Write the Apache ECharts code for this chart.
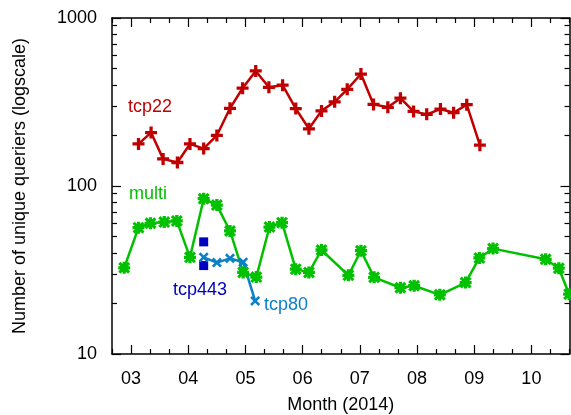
<!DOCTYPE html>
<style>
body {margin: 0;}
#div_echart {height: 415px; width: 571px;}
</style>
<script src='https://cdn.jsdelivr.net/npm/echarts@6/dist/echarts.min.js'></script>
<div id='div_echart'></div>
<script>
let tcp22Months = [3.13, 3.35, 3.56, 3.81, 4.03, 4.27, 4.50, 4.73, 4.95, 5.18, 5.41, 5.65, 5.88, 6.11, 6.33, 6.56, 6.78, 7.02, 7.24, 7.49, 7.71, 7.94, 8.17, 8.41, 8.64, 8.87, 9.10]
let tcp22Queriers = [178, 208, 145, 138, 178, 167, 200, 290, 382, 484, 387, 398, 289, 219, 280, 317, 376, 464, 306, 294, 333, 278, 267, 287, 273, 305, 175]
let multiMonths = [2.88, 3.13, 3.34, 3.58, 3.80, 4.03, 4.27, 4.50, 4.73, 4.96, 5.19, 5.42, 5.64, 5.88, 6.11, 6.33, 6.80, 7.02, 7.25, 7.71, 7.95, 8.40, 8.85, 9.09, 9.33, 10.25, 10.48, 10.66]
let multiQueriers = [32.6, 56.5, 60, 61, 62, 37.6, 84, 77, 54, 30.6, 28.7, 57, 60.5, 32, 30.6, 41.6, 29.4, 41.2, 28.6, 24.8, 25.5, 22.5, 26.6, 37.3, 42.4, 36.6, 32.4, 22.7]
let tcp80Months = [4.27, 4.50, 4.73, 4.96, 5.17]
let tcp80Queriers = [37.6, 35, 37.1, 35.2, 20.7]
let tcp443Months = [4.27, 4.27]
let tcp443Queriers = [46.5, 33.6]
let monthTicks = [3, 4, 5, 6, 7, 8, 9, 10]
let monthLabels = ['03', '04', '05', '06', '07', '08', '09', '10']
let queriersTicks = [10, 100, 1000]

let xMin = 8 / 3, xMax = 32 / 3
let font = 'Liberation Sans'
let red = '#c00000', green = '#00c000', lightBlue = '#0a80c8', darkBlue = '#0000c0'

let monthMinor = []
for (let i = 8; i <= 32; i++) if (i % 3) monthMinor.push(i / 3)
let logMinor = []
for (let d = 1; d <= 2; d++) for (let k = 2; k <= 9; k++) logMinor.push(d + Math.log10(k))

let plus = 'path://M4,0H7V4H11V7H7V11H4V7H0V4H4Z'
let cross = 'path://M0,2L2,0L5.5,3.5L9,0L11,2L7.5,5.5L11,9L9,11L5.5,7.5L2,11L0,9L3.5,5.5Z'
let star = 'path://M4,0H7V4H11V7H7V11H4V7H0V4H4Z M0,2L2,0L5.5,3.5L9,0L11,2L7.5,5.5L11,9L9,11L5.5,7.5L2,11L0,9L3.5,5.5Z'

let zip = (xs, ys) => xs.map((x, i) => [x, ys[i]])
let frame = {show: true, onZero: false, lineStyle: {color: '#000', width: 1.5}}

function xAxis(position, major) {
	return {
		type: 'value', position, min: xMin, max: xMax,
		axisLine: major ? frame : {show: false},
		axisTick: {inside: true, length: major ? 9 : 5, customValues: major ? monthTicks : monthMinor, lineStyle: {color: '#000', width: 1.2}},
		axisLabel: major && position == 'bottom' ? {
			customValues: monthTicks, margin: 10, color: '#000', fontSize: 18, fontFamily: font,
			formatter: v => monthLabels[monthTicks.indexOf(Math.round(v))]
		} : {show: false},
		splitLine: {show: false},
		name: major && position == 'bottom' ? 'Month (2014)' : '',
		nameLocation: 'middle', nameGap: 36, nameMoveOverlap: false,
		nameTextStyle: {color: '#000', fontSize: 18, fontFamily: font}
	}
}
function yAxisMajor(position) {
	return {
		type: 'log', position, min: queriersTicks[0], max: queriersTicks[queriersTicks.length - 1], logBase: 10,
		axisLine: frame,
		axisTick: {inside: true, length: 9, lineStyle: {color: '#000', width: 1.2}},
		axisLabel: position == 'left' ? {margin: 15, color: '#000', fontSize: 18, fontFamily: font, formatter: v => String(v)} : {show: false},
		splitLine: {show: false},
		name: position == 'left' ? 'Number of unique queriers (logscale)' : '',
		nameLocation: 'middle', nameGap: 76, nameMoveOverlap: false,
		nameTextStyle: {color: '#000', fontSize: 18, fontFamily: font}
	}
}
function yAxisMinor(position) {
	return {
		type: 'value', position, min: 1, max: 3,
		axisLine: {show: false},
		axisTick: {inside: true, length: 5, customValues: logMinor, lineStyle: {color: '#000', width: 1.2}},
		axisLabel: {show: false},
		splitLine: {show: false}
	}
}
function label(text, x, y, color) {
	return {type: 'text', x, y, style: {text, fill: color, font: '18px "' + font + '"', verticalAlign: 'middle'}}
}
function line(name, data, color, symbol, size) {
	return {
		name, type: 'line', data, color, symbol, symbolSize: size, showSymbol: true,
		lineStyle: {width: 2.5, color}, itemStyle: {color}, xAxisIndex: 0, yAxisIndex: 0
	}
}

let echart = echarts.init(document.getElementById('div_echart'))
echart.setOption({
	animation: false,
	grid: {left: 112, right: 1.5, top: 18, bottom: 61, outerBoundsMode: 'none'},
	xAxis: [xAxis('bottom', true), xAxis('bottom', false), xAxis('top', true), xAxis('top', false)],
	yAxis: [yAxisMajor('left'), yAxisMinor('left'), yAxisMajor('right'), yAxisMinor('right')],
	graphic: [
		label('tcp22', 128, 107, red),
		label('multi', 129, 194, green),
		label('tcp443', 173, 290, darkBlue),
		label('tcp80', 264, 305, lightBlue)
	],
	series: [
		line('tcp22', zip(tcp22Months, tcp22Queriers), red, plus, 12),
		line('multi', zip(multiMonths, multiQueriers), green, star, 12),
		line('tcp80', zip(tcp80Months, tcp80Queriers), lightBlue, cross, 10),
		{name: 'tcp443', type: 'scatter', data: zip(tcp443Months, tcp443Queriers), symbol: 'rect', symbolSize: 9, itemStyle: {color: darkBlue, opacity: 1}}
	]
})
</script>
